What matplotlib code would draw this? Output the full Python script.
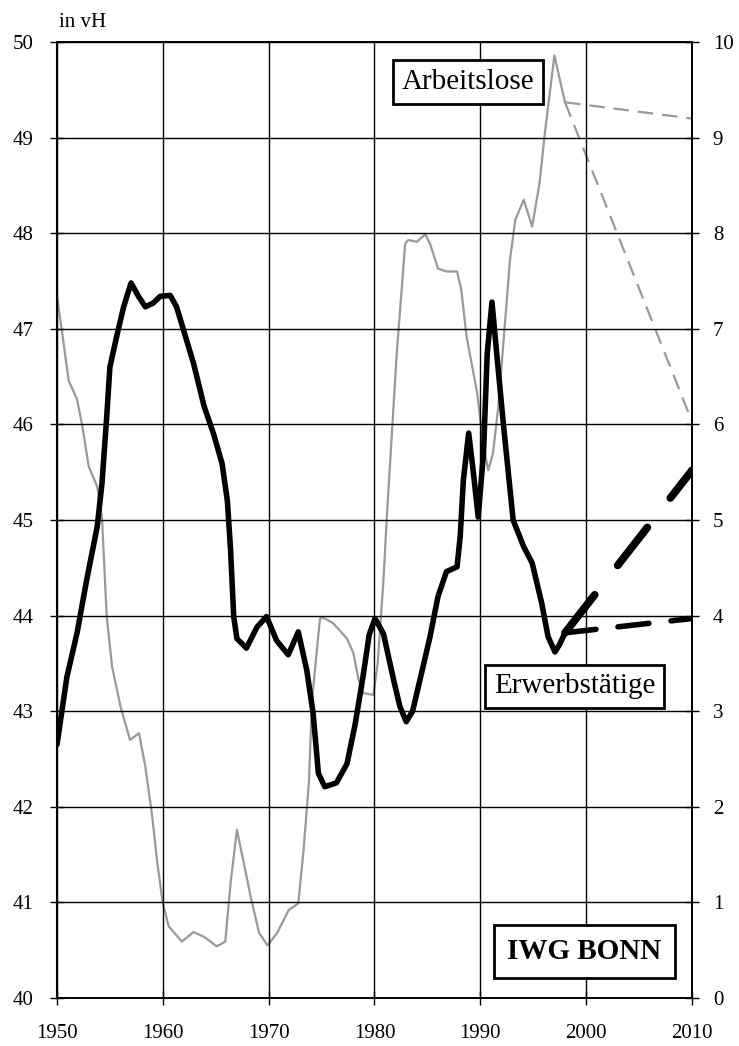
import matplotlib.pyplot as plt

plt.rcParams['font.family'] = ['Liberation Serif', 'DejaVu Serif']

# Erwerbstaetige (left axis, in vH)
erw_years = [1950.0, 1950.94, 1951.9, 1952.8, 1953.8, 1954.25, 1954.7, 1955.0, 1955.7, 1956.3,
             1957.0, 1957.7, 1958.35, 1959.1, 1959.75, 1960.7, 1961.3, 1961.95, 1962.9, 1963.9,
             1964.8, 1965.6, 1966.1, 1966.4, 1966.7, 1967.0, 1967.9, 1968.9, 1969.8, 1970.75,
             1971.85, 1972.8, 1973.6, 1974.2, 1974.7, 1975.3, 1976.4, 1977.4, 1978.15, 1978.9,
             1979.5, 1980.05, 1980.85, 1981.8, 1982.4, 1983.0, 1983.6, 1984.3, 1985.25, 1986.0,
             1986.8, 1987.8, 1988.1, 1988.4, 1988.9, 1989.35, 1989.8, 1990.3, 1990.65, 1991.1,
             1991.55, 1992.2, 1993.1, 1994.1, 1994.9, 1995.8, 1996.4, 1997.05, 1997.5, 1998.0]
erw_values = [42.65, 43.36, 43.82, 44.37, 44.93, 45.38, 46.08, 46.6, 46.95, 47.23,
              47.48, 47.34, 47.23, 47.27, 47.34, 47.35, 47.23, 46.99, 46.64, 46.19,
              45.9, 45.59, 45.2, 44.69, 43.99, 43.76, 43.66, 43.88, 43.99, 43.74,
              43.59, 43.83, 43.43, 42.98, 42.35, 42.21, 42.25, 42.45, 42.85, 43.35,
              43.8, 43.97, 43.81, 43.33, 43.05, 42.89, 43.0, 43.33, 43.78, 44.2,
              44.46, 44.51, 44.83, 45.42, 45.91, 45.49, 45.03, 45.7, 46.74, 47.28,
              46.74, 45.98, 45.0, 44.72, 44.55, 44.13, 43.78, 43.62, 43.7, 43.82]
erw_proj_years = [1998, 2010]
erw_proj_high = [43.82, 45.52]
erw_proj_low = [43.82, 43.97]

# Arbeitslose (right axis)
alo_years = [1950.0, 1950.5, 1951.1, 1951.9, 1952.4, 1953.0, 1953.8, 1954.25, 1954.7, 1955.2,
             1956.0, 1956.9, 1957.75, 1958.35, 1959.0, 1959.45, 1960.0, 1960.55, 1961.8, 1962.9,
             1963.9, 1965.1, 1965.9, 1966.4, 1967.0, 1967.6, 1968.3, 1969.1, 1969.9, 1970.8,
             1971.9, 1972.8, 1973.3, 1973.8, 1974.1, 1974.85, 1975.15, 1976.1, 1977.4, 1978.0,
             1978.5, 1978.95, 1979.9, 1980.3, 1980.85, 1981.15, 1982.1, 1982.9, 1983.2, 1984.0,
             1984.8, 1985.25, 1986.0, 1986.8, 1987.8, 1988.2, 1988.7, 1989.7, 1990.3, 1990.75,
             1991.2, 1991.7, 1992.2, 1992.8, 1993.3, 1994.1, 1994.9, 1995.6, 1996.1, 1997.0,
             1998.0]
alo_values = [7.34, 6.95, 6.46, 6.26, 5.98, 5.56, 5.35, 5.03, 3.99, 3.47,
              3.05, 2.70, 2.77, 2.42, 1.90, 1.44, 0.99, 0.75, 0.59, 0.69,
              0.64, 0.54, 0.59, 1.2, 1.76, 1.44, 1.06, 0.68, 0.55, 0.68,
              0.92, 0.99, 1.55, 2.25, 3.12, 3.97, 3.98, 3.92, 3.76, 3.61,
              3.33, 3.19, 3.17, 3.5, 4.37, 5.0, 6.74, 7.89, 7.93, 7.91,
              7.99, 7.89, 7.63, 7.6, 7.6, 7.41, 6.92, 6.33, 5.77, 5.52,
              5.7, 6.19, 6.88, 7.72, 8.14, 8.35, 8.07, 8.53, 9.05, 9.86,
              9.37]
alo_proj_years = [1998, 2010]
alo_proj_high = [9.37, 9.2]
alo_proj_low = [9.37, 6.03]

x_ticks = [1950, 1960, 1970, 1980, 1990, 2000, 2010]
left_ticks = list(range(40, 51))
right_ticks = list(range(0, 11))

fig = plt.figure(figsize=(7.39, 10.46), dpi=100)
ax = fig.add_axes([0.0771, 0.0459, 0.8593, 0.9139])
ax2 = ax.twinx()
ax.set_zorder(ax2.get_zorder() + 1)
ax.patch.set_visible(False)

gray = '#999999'
ax2.plot(alo_years, alo_values, color=gray, lw=1.6, solid_joinstyle='round')
ax2.plot(alo_proj_years, alo_proj_high, color=gray, lw=1.6, dashes=(7, 4))
ax2.plot(alo_proj_years, alo_proj_low, color=gray, lw=1.6, dashes=(7, 4))

ax.plot(erw_years, erw_values, color='black', lw=4.0, solid_joinstyle='round',
        solid_capstyle='round')
ax.plot(erw_proj_years, erw_proj_high, color='black', lw=5.6, dashes=(6.2, 4.8),
        dash_capstyle='round')
ax.plot(erw_proj_years, erw_proj_low, color='black', lw=4.0, dashes=(5.6, 4),
        dash_capstyle='round')

ax.set_xlim(1950, 2010)
ax.set_ylim(40, 50)
ax2.set_ylim(0, 10)
ax.set_xticks(x_ticks)
ax.set_yticks(left_ticks)
ax2.set_yticks(right_ticks)
ax.grid(True, color='black', lw=1.0)

for a in (ax, ax2):
    for s in a.spines.values():
        s.set_linewidth(1.2)
ax.spines['left'].set_linewidth(1.5)
ax.tick_params(axis='both', direction='inout', length=10, width=1, labelsize=15)
ax.tick_params(axis='x', pad=14)
ax.tick_params(axis='y', pad=12)
ax2.tick_params(axis='y', direction='inout', length=10, width=1, labelsize=15, pad=10)

ax.text(0.003, 1.016, 'in vH', transform=ax.transAxes, fontsize=15, va='baseline')

box = dict(boxstyle='square,pad=0.3', fc='white', ec='black', lw=2)
ax.text(1988.8, 49.58, 'Arbeitslose', fontsize=21, ha='center', va='center', bbox=box)
ax.text(1998.9, 43.26, 'Erwerbstätige', fontsize=21, ha='center', va='center', bbox=box)
ax.text(1999.85, 40.49, 'IWG BONN', fontsize=21, fontweight='bold', ha='center',
        va='center', bbox=dict(boxstyle='square,pad=0.45', fc='white', ec='black', lw=2))

fig.savefig('out.png', dpi=100)
